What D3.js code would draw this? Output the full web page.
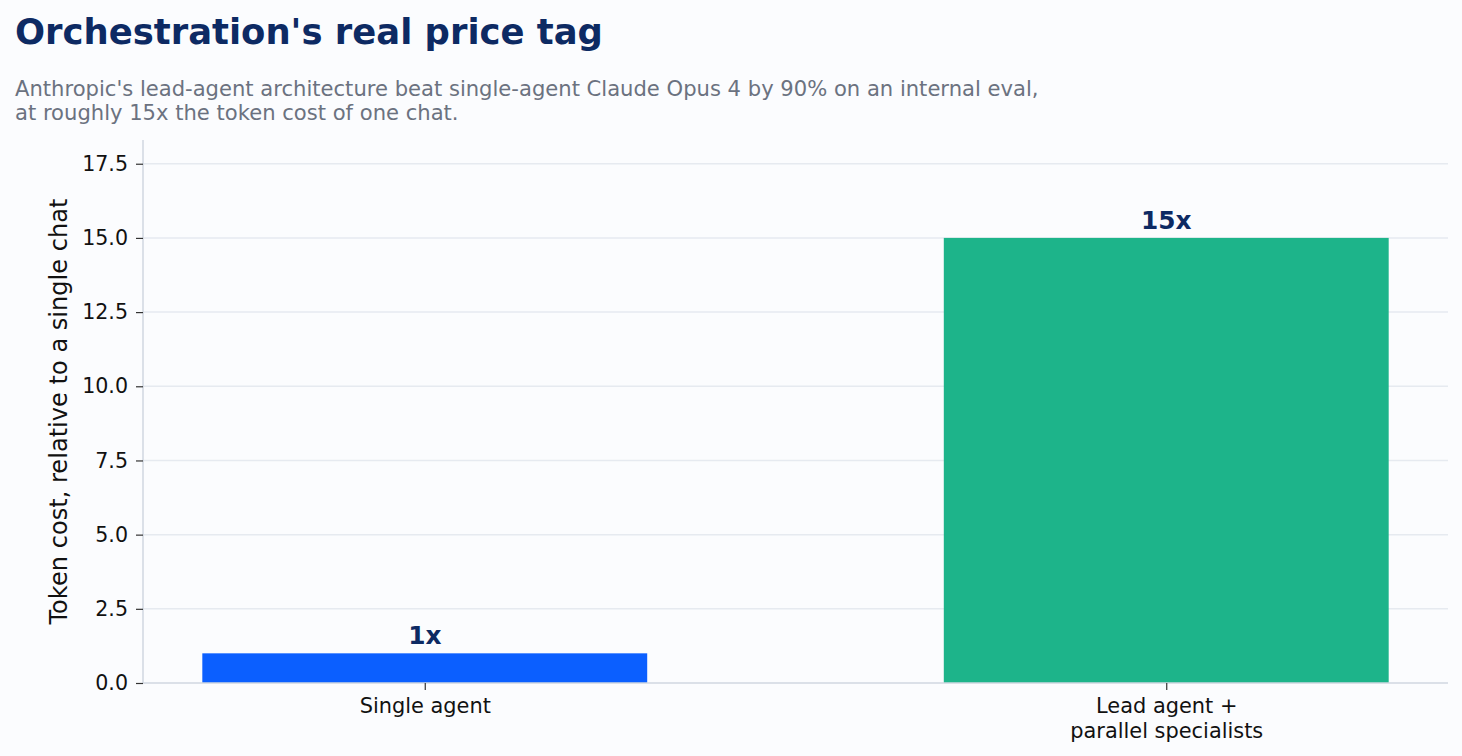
<!DOCTYPE html>
<html><head><meta charset="utf-8">
<script src="https://cdn.jsdelivr.net/npm/d3@7"></script>
<style>
html,body{margin:0;padding:0;background:#fbfcfe;}
svg{display:block;font-family:"DejaVu Sans",sans-serif;}
</style></head>
<body><svg id="c" width="1462" height="756"></svg>
<script>
const categories = [["Single agent"], ["Lead agent +", "parallel specialists"]];
const values = [1, 15];
const valueLabels = ["1x", "15x"];
const barColors = ["#0b5fff", "#1db48a"];
const yTicks = [0, 2.5, 5, 7.5, 10, 12.5, 15, 17.5];
const titleText = "Orchestration's real price tag";
const subtitleLines = ["Anthropic's lead-agent architecture beat single-agent Claude Opus 4 by 90% on an internal eval,", "at roughly 15x the token cost of one chat."];
const yLabel = "Token cost, relative to a single chat";

const svg = d3.select("#c");
const L = 143, R = 1448, T = 140, B = 683;
const x = d3.scaleLinear().domain([-0.38, 1.38]).range([L, R]);
const y = d3.scaleLinear().domain([0, 18.3]).range([B, T]);
const barW = 0.6;

svg.append("rect").attr("width",1462).attr("height",756).attr("fill","#fbfcfe");

// grid
svg.append("g").selectAll("line").data(yTicks.filter(d=>d>0)).join("line")
  .attr("x1",L).attr("x2",R).attr("y1",d=>y(d)).attr("y2",d=>y(d))
  .attr("stroke","#e6eaf0").attr("stroke-width",1.5);

// bars
svg.append("g").selectAll("rect").data(values).join("rect")
  .attr("x",(d,i)=>x(i-barW/2)).attr("width",(d,i)=>x(i+barW/2)-x(i-barW/2))
  .attr("y",d=>y(d)).attr("height",d=>y(0)-y(d))
  .attr("fill",(d,i)=>barColors[i]);

// value labels
svg.append("g").selectAll("text").data(values).join("text")
  .attr("x",(d,i)=>x(i)).attr("y",d=>y(d)-9)
  .attr("text-anchor","middle").attr("font-weight","bold").attr("font-size",24.8)
  .attr("fill","#0d2a63").text((d,i)=>valueLabels[i]);

// y axis
const yAxis = d3.axisLeft(y).tickValues(yTicks).tickFormat(d3.format(".1f")).tickSize(7).tickPadding(8);
const gy = svg.append("g").attr("transform",`translate(${L},0)`).call(yAxis);
gy.select(".domain").attr("stroke","#d0d7e0").attr("stroke-width",1.5).attr("d",`M0,${T}V${B}`);
gy.selectAll(".tick line").attr("stroke","#333").attr("stroke-width",1.2);
gy.selectAll(".tick text").attr("font-size",20.6).attr("fill","#111").attr("font-family","DejaVu Sans");

// x axis
const xAxis = d3.axisBottom(x).tickValues([0,1]).tickFormat("").tickSize(7);
const gx = svg.append("g").attr("transform",`translate(0,${B})`).call(xAxis);
gx.select(".domain").attr("stroke","#d0d7e0").attr("stroke-width",1.5).attr("d",`M${L},0H${R}`);
gx.selectAll(".tick line").attr("stroke","#333").attr("stroke-width",1.2);
gx.selectAll(".tick").each(function(d,i){
  const t = d3.select(this).append("text").attr("text-anchor","middle")
    .attr("font-size",20.9).attr("fill","#111").attr("font-family","DejaVu Sans");
  categories[i].forEach((ln,j)=>{
    t.append("tspan").attr("x",0).attr("y",30+j*25).text(ln);
  });
});

// y label
svg.append("text").attr("transform",`translate(67,${(T+B)/2}) rotate(-90)`)
  .attr("text-anchor","middle").attr("font-size",24.1).attr("fill","#111").text(yLabel);

// title & subtitle
svg.append("text").attr("x",15).attr("y",43.5).attr("font-size",35.4).attr("font-weight","bold")
  .attr("fill","#0d2a63").text(titleText);
svg.append("g").selectAll("text").data(subtitleLines).join("text")
  .attr("x",15).attr("y",(d,i)=>96+i*24).attr("font-size",21.1).attr("fill","#6b7280").text(d=>d);
</script></body></html>
